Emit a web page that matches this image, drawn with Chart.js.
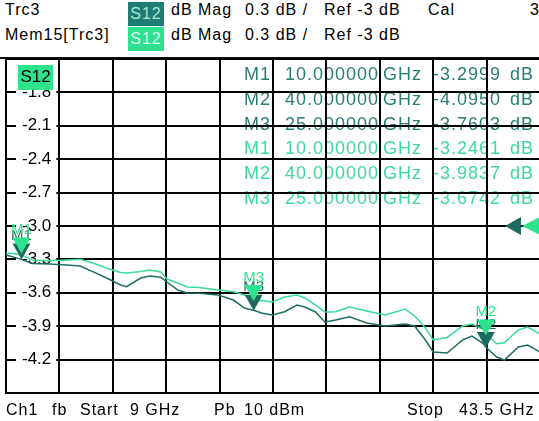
<!DOCTYPE html>
<html><head><meta charset="utf-8">
<script src="https://cdn.jsdelivr.net/npm/chart.js@4/dist/chart.umd.min.js"></script>
<style>
html,body{margin:0;padding:0;background:#fff;width:539px;height:421px;overflow:hidden;position:relative;font-family:"Liberation Sans",Arial,sans-serif;}
.t{position:absolute;font-size:16px;letter-spacing:1px;line-height:18px;color:#000;white-space:pre;}
.badge{position:absolute;width:36px;height:24px;font-size:16px;letter-spacing:1px;line-height:24px;text-align:center;}
#sep{position:absolute;left:0;top:57px;width:539px;height:2px;background:#111;}
canvas{position:absolute;left:-26px;top:0;}
</style></head><body>
<div class="t" style="left:5px;top:1px">Trc3</div>
<div class="badge" style="left:128px;top:2px;background:#1f7c70;color:#a6e6d2">S12</div>
<div class="t" style="left:171px;top:1px">dB Mag</div>
<div class="t" style="left:245px;top:1px">0.3 dB /</div>
<div class="t" style="left:324px;top:1px">Ref -3 dB</div>
<div class="t" style="left:428px;top:1px">Cal</div>
<div class="t" style="left:530px;top:1px">3</div>
<div class="t" style="left:5px;top:26px">Mem15[Trc3]</div>
<div class="badge" style="left:128px;top:27px;background:#2fe08f;color:#d9fff0">S12</div>
<div class="t" style="left:171px;top:26px">dB Mag</div>
<div class="t" style="left:245px;top:26px">0.3 dB /</div>
<div class="t" style="left:324px;top:26px">Ref -3 dB</div>
<div id="sep"></div>
<canvas id="c" width="576" height="421"></canvas>
<div class="t" style="left:6px;top:401px">Ch1</div>
<div class="t" style="left:52px;top:401px">fb</div>
<div class="t" style="left:80px;top:401px">Start</div>
<div class="t" style="left:130px;top:401px">9 GHz</div>
<div class="t" style="left:214px;top:401px">Pb</div>
<div class="t" style="left:244px;top:401px">10 dBm</div>
<div class="t" style="left:407px;top:401px">Stop</div>
<div class="t" style="left:459px;top:401px">43.5 GHz</div>
<script>
const freqGHz = [9.0, 9.9, 10.7, 11.8, 12.9, 13.8, 14.6, 15.5, 16.4, 16.8,
  17.7, 18.3, 19.0, 19.4, 20.1, 20.7, 21.5, 22.7, 23.7, 24.4,
  25.1, 25.5, 26.2, 27.0, 27.8, 28.3, 29.0, 29.6, 30.3, 31.2,
  32.3, 33.5, 34.8, 35.4, 36.1, 36.6, 37.5, 38.5, 39.1, 39.8,
  40.1, 40.7, 41.2, 42.1, 42.7, 43.5];
const trc3dB = [-3.260, -3.295, -3.337, -3.341, -3.350, -3.359, -3.410, -3.467, -3.530, -3.545,
  -3.467, -3.449, -3.461, -3.503, -3.575, -3.602, -3.605, -3.620, -3.665, -3.737,
  -3.761, -3.781, -3.799, -3.770, -3.710, -3.728, -3.772, -3.862, -3.844, -3.815,
  -3.871, -3.898, -3.880, -3.898, -4.024, -4.132, -4.141, -4.024, -3.988, -4.051,
  -4.100, -4.177, -4.204, -4.087, -4.069, -4.132];
const mem15dB = [-3.240, -3.255, -3.305, -3.312, -3.305, -3.299, -3.332, -3.377, -3.418, -3.422,
  -3.409, -3.395, -3.413, -3.476, -3.512, -3.548, -3.552, -3.575, -3.590, -3.620,
  -3.672, -3.670, -3.683, -3.638, -3.620, -3.647, -3.710, -3.772, -3.770, -3.728,
  -3.763, -3.799, -3.746, -3.808, -3.916, -4.024, -4.001, -3.898, -3.880, -3.925,
  -3.980, -4.058, -4.049, -3.934, -3.907, -3.970];
const yTickValues = [-4.5, -4.2, -3.9, -3.6, -3.3, -3.0, -2.7, -2.4, -2.1, -1.8, -1.5];
const yTickLabels = ['', '-4.2', '-3.9', '-3.6', '-3.3', '-3.0', '-2.7', '-2.4', '-2.1', '-1.8', ''];
const xGridValues = [9, 12.45, 15.9, 19.35, 22.8, 26.25, 29.7, 33.15, 36.6, 40.05, 43.5];
const markerNames = ['M1', 'M2', 'M3'];
const markerFreqs = [10, 40, 25];
const trc3MarkerdB = [-3.2999, -4.0950, -3.7603];
const mem15MarkerdB = [-3.2461, -3.9837, -3.6742];
const refLevel = -3;

const DARK = '#1f6e62', LIGHT = '#38de9a';
const DARK_TXT = '#2b7d72', LIGHT_TXT = '#3fd99b';
const DARK_MK = '#1d6b5f', LIGHT_MK = '#2fe38e';
const GRID = '#000';
const FONT = '"Liberation Sans", Arial, sans-serif';
const OFF = 26; // canvas is shifted left by 26px

function tri(ctx, pts, color) {
  ctx.beginPath();
  ctx.moveTo(pts[0][0], pts[0][1]);
  ctx.lineTo(pts[1][0], pts[1][1]);
  ctx.lineTo(pts[2][0], pts[2][1]);
  ctx.closePath();
  ctx.fillStyle = color;
  ctx.fill();
}

const overlay = {
  id: 'overlay',
  beforeDraw(chart) {
    const ctx = chart.ctx;
    ctx.save();
    ctx.font = '18px ' + FONT;
    ctx.letterSpacing = '1px';
    ctx.textBaseline = 'middle';
    const rows = [];
    markerNames.forEach((n, i) => rows.push([n, markerFreqs[i], trc3MarkerdB[i], DARK_TXT]));
    markerNames.forEach((n, i) => rows.push([n, markerFreqs[i], mem15MarkerdB[i], LIGHT_TXT]));
    rows.forEach((r, k) => {
      const y = 75 + k * 24.8;
      ctx.fillStyle = r[3];
      ctx.textAlign = 'left';
      ctx.fillText(r[0], 244 + OFF, y);
      ctx.textAlign = 'right';
      ctx.fillText(r[1].toFixed(6), 379 + OFF, y);
      ctx.textAlign = 'left';
      ctx.fillText('GHz', 383 + OFF, y);
      ctx.fillText(r[2].toFixed(4), 433 + OFF, y);
      ctx.fillText('dB', 510 + OFF, y);
    });
    ctx.restore();
  },
  afterDatasetsDraw(chart) {
    const ctx = chart.ctx;
    const xs = chart.scales.x, ys = chart.scales.y;
    ctx.save();
    ctx.font = '15px ' + FONT;
    ctx.textAlign = 'center';
    ctx.textBaseline = 'bottom';
    const drawMarker = (f, v, name, col) => {
      const x = xs.getPixelForValue(f), y = ys.getPixelForValue(v);
      ctx.fillStyle = col;
      ctx.fillText(name, x, y - 16);
      tri(ctx, [[x - 9, y - 16], [x + 9, y - 16], [x, y]], col);
    };
    markerNames.forEach((n, i) => drawMarker(markerFreqs[i], trc3MarkerdB[i], n, DARK_MK));
    markerNames.forEach((n, i) => drawMarker(markerFreqs[i], mem15MarkerdB[i], n, LIGHT_MK));
    // reference level arrows
    const yr = ys.getPixelForValue(refLevel);
    tri(ctx, [[505 + OFF, yr], [521 + OFF, yr - 9], [521 + OFF, yr + 9]], DARK_MK);
    tri(ctx, [[522 + OFF, yr], [540 + OFF, yr - 9], [540 + OFF, yr + 9]], LIGHT_MK);
    // S12 badge in the plot
    ctx.fillStyle = '#2de38c';
    ctx.fillRect(18 + OFF, 65, 35, 25);
    ctx.fillStyle = '#000';
    ctx.font = '17px ' + FONT;
    ctx.textAlign = 'center';
    ctx.textBaseline = 'middle';
    ctx.fillText('S12', 35.5 + OFF, 77);
    ctx.restore();
  }
};

new Chart(document.getElementById('c').getContext('2d'), {
  type: 'line',
  data: {
    datasets: [
      { label: 'Mem15[Trc3]', data: freqGHz.map((f, i) => ({ x: f, y: mem15dB[i] })),
        borderColor: LIGHT, borderWidth: 1.5, pointRadius: 0, tension: 0 },
      { label: 'Trc3', data: freqGHz.map((f, i) => ({ x: f, y: trc3dB[i] })),
        borderColor: DARK, borderWidth: 1.5, pointRadius: 0, tension: 0 }
    ]
  },
  options: {
    responsive: false, animation: false, devicePixelRatio: 1,
    layout: { padding: { left: 0, right: 10, top: 59, bottom: 28 } },
    plugins: { legend: { display: false }, tooltip: { enabled: false } },
    scales: {
      x: {
        type: 'linear', min: 9, max: 43.5,
        afterBuildTicks(s) { s.ticks = xGridValues.map(v => ({ value: v })); },
        ticks: { display: false },
        grid: { color: GRID, lineWidth: 2, drawTicks: false },
        border: { color: GRID, width: 2 }
      },
      y: {
        type: 'linear', min: -4.5, max: -1.5,
        afterBuildTicks(s) { s.ticks = yTickValues.map(v => ({ value: v })); },
        ticks: {
          mirror: true, padding: 16, color: '#000',
          font: { family: FONT, size: 17 },
          callback: (v, i) => yTickLabels[i],
          showLabelBackdrop: true,
          backdropColor: (c) => yTickLabels[c.index] ? '#fff' : 'rgba(0,0,0,0)',
          backdropPadding: { left: 6, right: 5, top: 0, bottom: 0 }
        },
        grid: { color: GRID, lineWidth: 2, drawTicks: false },
        border: { color: GRID, width: 2 }
      }
    }
  },
  plugins: [overlay]
});
</script>
</body></html>
